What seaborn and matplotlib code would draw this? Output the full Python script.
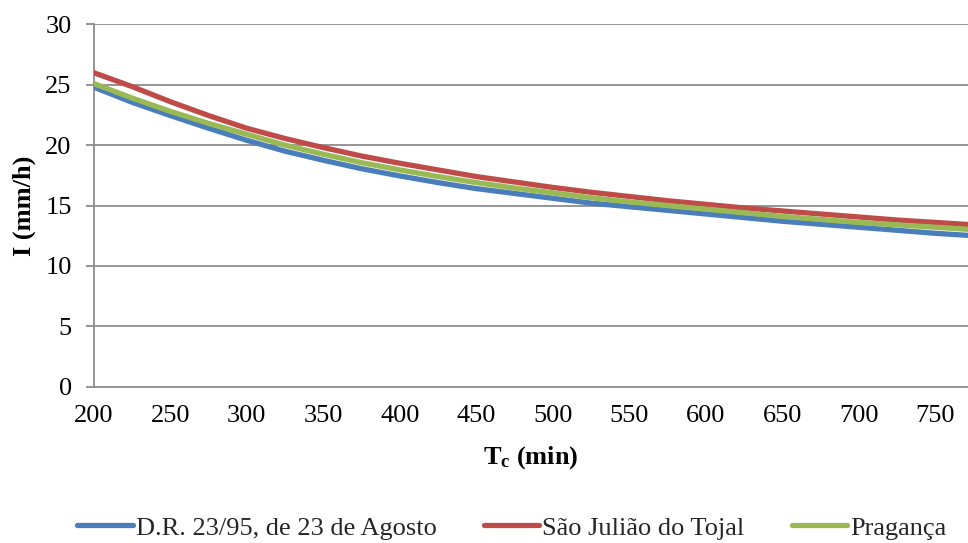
import numpy as np
import pandas as pd
import matplotlib
matplotlib.use("Agg")
import matplotlib.pyplot as plt
import seaborn as sns

# Concentration time (min)
tc = [200, 225, 250, 275, 300, 325, 350, 375, 400, 425, 450, 475, 500,
      525, 550, 575, 600, 625, 650, 675, 700, 725, 750, 775]

# Rainfall intensity (mm/h) for each IDF relation
i_dr = [24.8, 23.55, 22.45, 21.4, 20.4, 19.5, 18.75, 18.05, 17.45, 16.9, 16.4, 16.0, 15.6,
        15.2, 14.9, 14.6, 14.3, 14.0, 13.7, 13.45, 13.2, 12.95, 12.7, 12.5]
i_sjt = [26.0, 24.85, 23.6, 22.45, 21.4, 20.55, 19.8, 19.1, 18.5, 17.95, 17.4, 16.95, 16.5,
         16.1, 15.75, 15.4, 15.1, 14.8, 14.55, 14.3, 14.05, 13.8, 13.6, 13.4]
i_prag = [25.1, 23.9, 22.8, 21.8, 20.9, 20.0, 19.25, 18.55, 17.95, 17.4, 16.9, 16.45, 16.05,
          15.65, 15.3, 15.0, 14.7, 14.4, 14.1, 13.85, 13.6, 13.4, 13.2, 13.0]

series_names = ["D.R. 23/95, de 23 de Agosto", "São Julião do Tojal", "Pragança"]
colors = ["#4A7EBB", "#BE4B48", "#98B954"]

yticks = [0, 5, 10, 15, 20, 25, 30]
xticks = [200, 250, 300, 350, 400, 450, 500, 550, 600, 650, 700, 750]

df = pd.concat([
    pd.DataFrame({"Tc": tc, "I": vals, "serie": name})
    for name, vals in zip(series_names, [i_dr, i_sjt, i_prag])
])

sns.set_theme(style="white")
plt.rcParams["font.family"] = ["Liberation Serif", "DejaVu Serif"]
plt.rcParams["mathtext.fontset"] = "custom"
plt.rcParams["mathtext.rm"] = "Liberation Serif"
plt.rcParams["mathtext.bf"] = "Liberation Serif:bold"

FS = 19

fig = plt.figure(figsize=(9.68, 5.43), dpi=100)
ax = fig.add_axes([0.097, 0.288, 0.903, 0.667])

grid_c = "#8C8C8C"
for y in yticks[1:]:
    ax.axhline(y, color=grid_c, lw=1.3, zorder=0)

sns.lineplot(data=df, x="Tc", y="I", hue="serie", hue_order=series_names,
             palette=colors, lw=3.8, ax=ax, legend=True, zorder=3)

ax.set_xlim(200, 771.5)
ax.set_ylim(0, 30)
ax.set_xticks(xticks)
ax.set_yticks(yticks)
ax.tick_params(axis="y", length=6, width=1.3, color=grid_c, direction="out",
               labelsize=FS, pad=10, left=True, labelcolor="black")
ax.tick_params(axis="x", length=0, labelsize=FS, pad=13, labelcolor="black")
for s in ["top", "right"]:
    ax.spines[s].set_visible(False)
for s in ["left", "bottom"]:
    ax.spines[s].set_color(grid_c)
    ax.spines[s].set_linewidth(1.3)

ax.set_ylabel("I (mm/h)", fontsize=FS, fontweight="bold", color="black")
ax.yaxis.set_label_coords(-0.066, 0.5)
ax.set_xlabel(r"$\mathbf{T_{c}}$ (min)", fontsize=FS, fontweight="bold", color="black")
ax.xaxis.set_label_coords(0.5, -0.158)

handles, labels = ax.get_legend_handles_labels()
ax.legend(handles, labels, loc="center", bbox_to_anchor=(0.478, -0.39),
          ncol=3, frameon=False, fontsize=FS, handlelength=2.1,
          handletextpad=0.1, columnspacing=1.8, borderaxespad=0)

fig.savefig("out.png", dpi=100)
